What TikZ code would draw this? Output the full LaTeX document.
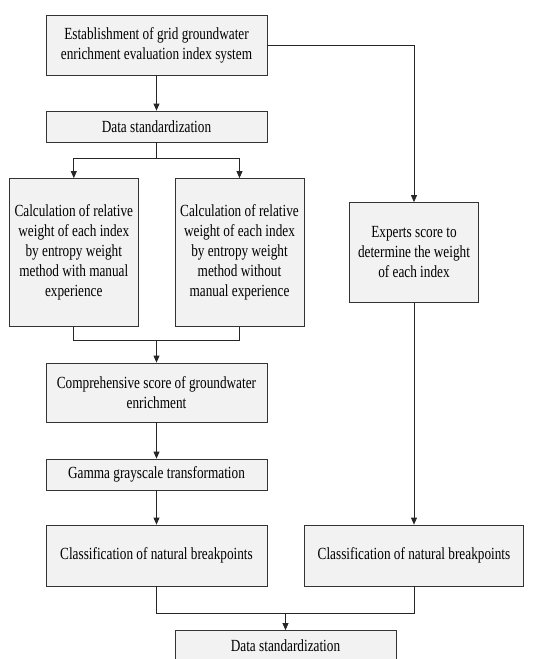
\documentclass[tikz,border=0pt]{standalone}
\usepackage{fontspec}
\setmainfont[FakeStretch=0.78]{Liberation Serif}
\usetikzlibrary{positioning, arrows.meta}

\begin{document}
\begin{tikzpicture}[x=1pt, y=-1pt,
  stage/.style={draw=black!80, fill=gray!10, line width=0.8pt, align=center,
    inner sep=0pt, font=\fontsize{17}{20}\selectfont},
  flow/.style={draw=black!85, line width=0.8pt, -{Triangle[length=7pt, width=6pt]}},
  link/.style={draw=black!85, line width=0.8pt}]

\useasboundingbox (0,0) rectangle (553,659);

\node[stage, minimum width=221, minimum height=60] (est) at (156.5,45)
  {Establishment of grid groundwater\\enrichment evaluation index system};
\node[stage, minimum width=221, minimum height=31] (std1) at (156.5,126.5) {Data standardization};
\node[stage, minimum width=129, minimum height=148] (calcA) at (73.8,252.5)
  {Calculation of relative\\weight of each index\\by entropy weight\\method with manual\\experience};
\node[stage, minimum width=129, minimum height=148] (calcB) at (239.5,252.5)
  {Calculation of relative\\weight of each index\\by entropy weight\\method without\\manual experience};
\node[stage, minimum width=129, minimum height=100] (expert) at (414,252.5)
  {Experts score to\\determine the weight\\of each index};
\node[stage, minimum width=221, minimum height=59] (score) at (156.5,392.5)
  {Comprehensive score of groundwater\\enrichment};
\node[stage, minimum width=221, minimum height=31] (gamma) at (156.5,474.5) {Gamma grayscale transformation};
\node[stage, minimum width=221, minimum height=61] (classA) at (156.5,555.5) {Classification of natural breakpoints};
\node[stage, minimum width=219, minimum height=61] (classB) at (414,555.5) {Classification of natural breakpoints};
\node[stage, minimum width=221, minimum height=31] (std2) at (285.5,646) {Data standardization};

\coordinate (split) at (156.5,158.3);
\coordinate (join) at (156.5,340.7);
\coordinate (merge) at (285.5,613.3);

\draw[flow] (est) -- (std1);
\draw[link] (std1) -- (split);
\draw[flow] (split) -| (calcA);
\draw[flow] (split) -| (calcB);
\draw[flow] (est.east) -| (expert);

\draw[link] (calcA) |- (join);
\draw[link] (calcB) |- (join);
\draw[flow] (join) -- (score);
\draw[flow] (score) -- (gamma);
\draw[flow] (gamma) -- (classA);
\draw[flow] (expert) -- (classB);

\draw[link] (classA) |- (merge);
\draw[link] (classB) |- (merge);
\draw[flow] (merge) -- (std2);

\end{tikzpicture}
\end{document}
